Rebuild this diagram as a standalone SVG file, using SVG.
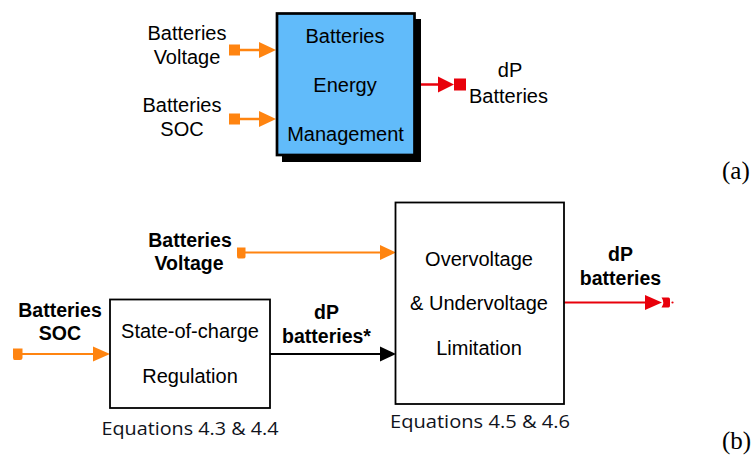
<svg xmlns="http://www.w3.org/2000/svg" width="756" height="458" viewBox="0 0 756 458">
<defs>
<style>
.t{font-family:"Liberation Sans",Arial,sans-serif;font-size:20px;fill:#000;text-anchor:middle}
.b{font-family:"Liberation Sans",Arial,sans-serif;font-size:19.5px;font-weight:bold;fill:#000;text-anchor:middle}
.eq{font-family:"Open Sans","Noto Sans",sans-serif;font-size:19px;fill:#10131c}
.lbl{font-family:"Liberation Serif","DejaVu Serif",serif;font-size:25px;fill:#000}
.or{stroke:#FF8410;fill:none}
.rd{stroke:#E8000B;fill:none}
.blk{stroke:#000;fill:none}
.box{fill:#fff;stroke:#000;stroke-width:1.8}
</style>
</defs>
<g id="connectors">
<rect x="229" y="44.5" width="11" height="11" fill="#FF8410"/>
<line class="or" x1="240" y1="50" x2="260" y2="50" stroke-width="2.5"/>
<polygon points="259,42 276,50 259,58" fill="#FF8410"/>
<rect x="229" y="113.5" width="11" height="11" fill="#FF8410"/>
<line class="or" x1="240" y1="119" x2="260" y2="119" stroke-width="2.5"/>
<polygon points="259,111 276,119 259,127" fill="#FF8410"/>
<line class="rd" x1="416" y1="84.5" x2="440" y2="84.5" stroke-width="2.5"/>
<polygon points="438,76.5 454,84.5 438,92.5" fill="#E8000B"/>
<rect x="454" y="78.5" width="12" height="12" fill="#E8000B"/>
<path d="M237,247.5 H245.5 V257 Q245.5,258.5 243,258.5 H238.5 Q237,258.5 237,256 Z" fill="#FF8410"/>
<line class="or" x1="245" y1="252.5" x2="382" y2="252.5" stroke-width="1.8"/>
<polygon points="380,245 396,252.5 380,260" fill="#FF8410"/>
<path d="M13,348.5 H22.5 V358 Q22.5,360 20,360 H14.5 Q13,360 13,357.5 Z" fill="#FF8410"/>
<line class="or" x1="22" y1="354" x2="95" y2="354" stroke-width="1.8"/>
<polygon points="93,346.5 110,354 93,361.5" fill="#FF8410"/>
<line class="blk" x1="270" y1="354" x2="382" y2="354" stroke-width="1.8"/>
<polygon points="380,346.5 396,354 380,361.5" fill="#000"/>
<line class="rd" x1="564" y1="302.5" x2="647" y2="302.5" stroke-width="1.8"/>
<polygon points="645,295 662,302.5 645,310" fill="#E8000B"/>
<path d="M661.5,297.5 H668.5 Q670,297.5 670,299.5 V305.5 Q670,307.5 668.5,307.5 H661.5 Q665,302.5 661.5,297.5 Z" fill="#E8000B"/>
<circle cx="672.5" cy="302.5" r="1.1" fill="#E8000B"/>
</g>
<g id="bem">
<rect x="282" y="19" width="139" height="143" fill="#000"/>
<rect x="277" y="13.5" width="137.5" height="141.5" fill="#61BBFA" stroke="#000" stroke-width="2.7"/>
<text class="t" x="345" y="43">Batteries</text>
<text class="t" x="345" y="92">Energy</text>
<text class="t" x="345.5" y="140.5">Management</text>
</g>
<g id="in-voltage-a">
<text class="t" x="187" y="40">Batteries</text>
<text class="t" x="187" y="63.5">Voltage</text>
</g>
<g id="in-soc-a">
<text class="t" x="182" y="112">Batteries</text>
<text class="t" x="182" y="136">SOC</text>
</g>
<g id="out-a">
<text class="t" x="510" y="77">dP</text>
<text class="t" x="508.5" y="103">Batteries</text>
</g>
<text class="lbl" x="722" y="179">(a)</text>
<g id="in-voltage-b">
<text class="b" x="190" y="247">Batteries</text>
<text class="b" x="189" y="270">Voltage</text>
</g>
<g id="in-soc-b">
<text class="b" x="60" y="316.5">Batteries</text>
<text class="b" x="60" y="340">SOC</text>
</g>
<g id="soc-reg">
<rect class="box" x="110" y="299.5" width="160" height="108.5"/>
<text class="t" x="190" y="338">State-of-charge</text>
<text class="t" x="190" y="382.5">Regulation</text>
<text class="eq" x="101.5" y="435" textLength="177" lengthAdjust="spacingAndGlyphs">Equations 4.3 &amp; 4.4</text>
</g>
<g id="mid-label">
<text class="b" x="326.5" y="319">dP</text>
<text class="b" x="326.5" y="343">batteries*</text>
</g>
<g id="limit">
<rect class="box" x="395.5" y="202.5" width="168.5" height="201.5"/>
<text class="t" x="479" y="266">Overvoltage</text>
<text class="t" x="479" y="310">&amp; Undervoltage</text>
<text class="t" x="479" y="354.5">Limitation</text>
<text class="eq" x="390" y="428" textLength="180" lengthAdjust="spacingAndGlyphs">Equations 4.5 &amp; 4.6</text>
</g>
<g id="out-b">
<text class="b" x="620.5" y="261">dP</text>
<text class="b" x="620.5" y="284.5">batteries</text>
</g>
<text class="lbl" x="722" y="449">(b)</text>
</svg>
